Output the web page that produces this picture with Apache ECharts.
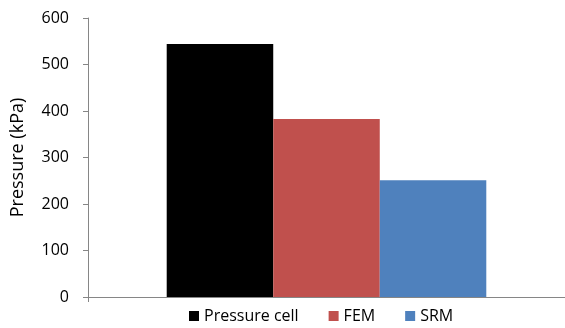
<!DOCTYPE html>
<html>
<head>
<meta charset="utf-8">
<script src="https://cdn.jsdelivr.net/npm/echarts@6/dist/echarts.min.js"></script>
<style>
  html, body { margin: 0; padding: 0; background: #fff; }
  #chart { width: 565px; height: 328px; }
</style>
</head>
<body>
<div id="chart"></div>
<script>
// Measured pressures (kPa) for one load case
const categories = [''];
const seriesNames = ['Pressure cell', 'FEM', 'SRM'];
const pressureCell = [544];
const fem = [383];
const srm = [251];
const seriesColors = ['#000000', '#C0504D', '#4F81BD'];

const font = '"Open Sans", "Noto Sans", sans-serif';
const valuesList = [pressureCell, fem, srm];

const chart = echarts.init(document.getElementById('chart'));
chart.setOption({
  animation: false,
  textStyle: { fontFamily: font },
  grid: { left: 88, right: 0, top: 18, bottom: 31 },
  legend: {
    top: 308,
    left: 189,
    padding: 0,
    itemWidth: 10,
    itemHeight: 10,
    itemGap: 30,
    icon: 'rect',
    textStyle: { fontFamily: font, fontSize: 16, color: '#000' },
    data: seriesNames
  },
  xAxis: {
    type: 'category',
    data: categories,
    axisLine: { lineStyle: { color: '#868686' } },
    axisTick: { show: true, length: 5, lineStyle: { color: '#868686' } },
    axisLabel: { show: false }
  },
  yAxis: {
    type: 'value',
    min: 0,
    max: 600,
    interval: 100,
    name: 'Pressure (kPa)',
    nameLocation: 'middle',
    nameGap: 61,
    nameTextStyle: { fontFamily: font, fontSize: 18, color: '#000' },
    axisLine: { show: true, lineStyle: { color: '#868686' } },
    axisTick: { show: true, length: 5, lineStyle: { color: '#868686' } },
    axisLabel: { fontFamily: font, fontSize: 16, color: '#000', margin: 19 },
    splitLine: { show: false }
  },
  series: seriesNames.map((name, i) => ({
    name: name,
    type: 'bar',
    data: valuesList[i],
    barGap: '0%',
    barCategoryGap: '33%',
    itemStyle: { color: seriesColors[i] }
  }))
});
</script>
</body>
</html>
